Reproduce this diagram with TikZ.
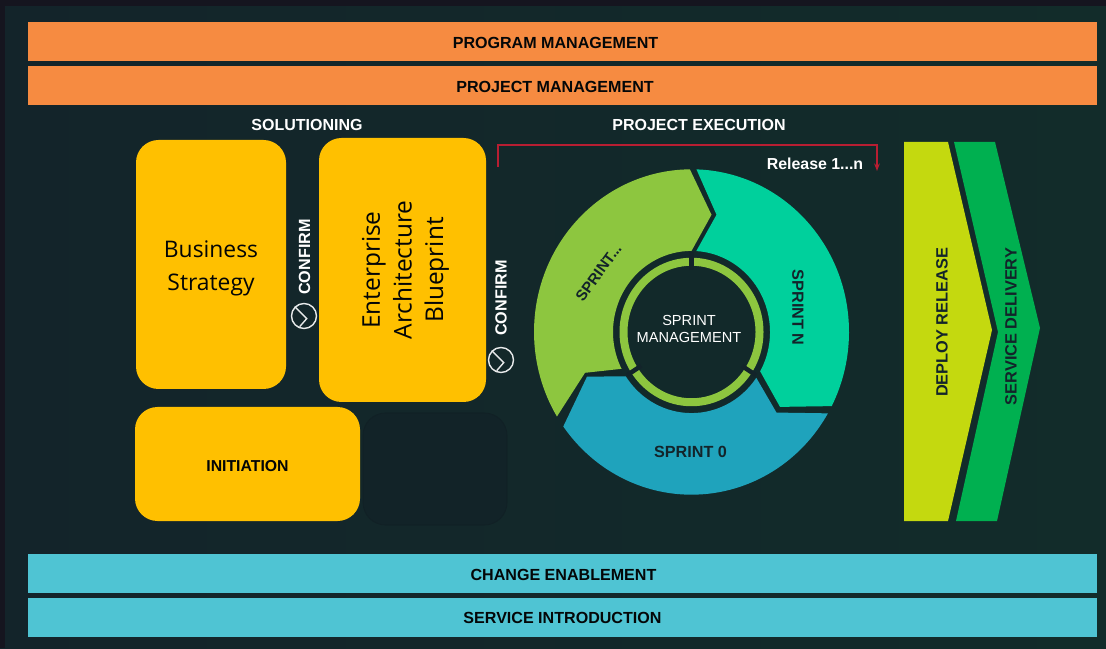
\documentclass[tikz,border=0pt]{standalone}
\usepackage{fontspec}
\setmainfont{Liberation Sans}
\newfontfamily\boxfont{Open Sans}
\usepackage{xcolor}
\usetikzlibrary{arrows.meta, positioning}
\definecolor{BgDark}{HTML}{13242A}
\definecolor{BgGreen}{HTML}{122C2A}
\definecolor{FrameDark}{HTML}{15151F}
\definecolor{BarOrange}{HTML}{F68B41}
\definecolor{BarTeal}{HTML}{4FC4D3}
\definecolor{BoxYellow}{HTML}{FFC000}
\definecolor{SprintGreen}{HTML}{8DC63F}
\definecolor{SprintMint}{HTML}{00D09C}
\definecolor{SprintBlue}{HTML}{1FA3BC}
\definecolor{DeployLime}{HTML}{C4D90F}
\definecolor{DeliveryGreen}{HTML}{00B050}
\definecolor{ReleaseRed}{HTML}{B81E32}

\begin{document}
\begin{tikzpicture}[
        bar/.style={minimum width=21.38cm, minimum height=0.78cm, inner sep=0pt},
        bartext/.style={font=\fontsize{9.15}{11}\selectfont\bfseries, text=black!80!BgDark},
        yellowbox/.style={fill=BoxYellow, rounded corners=0.45cm, inner sep=0pt, align=center, text=black!85!BgDark},
        heading/.style={text=white, font=\fontsize{9.1}{11}\selectfont\bfseries},
        confirm/.style={text=white, rotate=90, font=\fontsize{9.2}{10}\selectfont\bfseries},
        clock/.style={circle, draw=white!90!BgDark, thick, minimum size=0.5cm, inner sep=0pt},
        sprintlabel/.style={font=\fontsize{9.2}{10}\selectfont\bfseries, text=BgDark},
        arrowlabel/.style={rotate=90, font=\fontsize{9.3}{10}\selectfont\bfseries, text=BgDark},
        release/.style={ReleaseRed, thick, -{Stealth[length=1.5mm]}}
    ]

    \useasboundingbox (0,0) rectangle (22.12,12.96);
    \shade[left color=BgDark, right color=BgGreen] (0,0) rectangle (22.12,12.96);
    \fill[FrameDark] (0,0) rectangle (0.1,12.96);
    \fill[FrameDark] (0,12.84) rectangle (22.12,12.96);

    % bars on top and bottom
    \node[bar, fill=BarOrange] (programbar) at (11.25,12.12) {};
    \node[bar, fill=BarOrange] (projectbar) at (11.25,11.25) {};
    \node[bar, fill=BarTeal] (changebar) at (11.25,1.49) {};
    \node[bar, fill=BarTeal] (servicebar) at (11.25,0.62) {};
    \node[bartext] (program) at (11.11,12.1) {PROGRAM MANAGEMENT};
    \node[bartext] (project) at (11.1,11.23) {PROJECT MANAGEMENT};
    \node[bartext] (change) at (11.27,1.47) {CHANGE ENABLEMENT};
    \node[bartext] (service) at (11.25,0.6) {SERVICE INTRODUCTION};

    \node[heading] (solutioning) at (6.14,10.45) {SOLUTIONING};
    \node[heading] (execution) at (13.98,10.45) {PROJECT EXECUTION};

    % solutioning boxes
    \node[yellowbox, minimum width=3cm, minimum height=4.98cm] (strategy) at (4.22,7.67) {};
    \node[align=center, text=black!85!BgDark, font=\boxfont\fontsize{13}{18.7}\selectfont] (strategytext) at (4.22,7.59) {Business\\Strategy};
    \node[yellowbox, minimum width=3.34cm, minimum height=5.28cm] (blueprint) at (8.05,7.56) {};
    \node[rotate=90, align=center, text=black!85!BgDark, font=\boxfont\fontsize{13.9}{18}\selectfont] (blueprinttext) at (8.11,7.56) {Enterprise\\Architecture\\Blueprint};
    \node[yellowbox, minimum width=4.5cm, minimum height=2.28cm, font=\fontsize{9}{10}\selectfont\bfseries, text height=9pt] (initiation) at (4.95,3.68) {INITIATION};
    \node[draw=black!12!BgDark, fill=black!4!BgDark, rounded corners=0.45cm, minimum width=2.88cm, minimum height=2.24cm] (emptybox) at (8.7,3.58) {};

    \node[confirm] (confirma) at (6.09,7.82) {CONFIRM};
    \node[confirm] (confirmb) at (10.02,7.0) {CONFIRM};
    \node[clock] (clocka) at (6.08,6.64) {};
    \node[clock] (clockb) at (10.02,5.76) {};
    \draw[white!90!BgDark, thick] (clocka.north west) -- ++(0.24,-0.24) -- ++(-0.14,-0.16);
    \draw[white!90!BgDark, thick] (clockb.north west) -- ++(0.24,-0.24) -- ++(-0.14,-0.16);

    % release bracket
    \coordinate (relstart) at (9.96,9.62);
    \coordinate (relend) at (17.54,9.54);
    \node[text=white, font=\fontsize{9.05}{10}\selectfont\bfseries] (releasetext) at (16.3,9.68) {Release 1...n};
    \draw[release] (relstart) |- (17.54,10.06) -- (relend);

    % sprint ring
    \begin{scope}[shift={(13.83,6.32)}, yscale=1.033]
        \fill[SprintGreen] (90.6:3.15) arc[start angle=90.6, end angle=211.3, radius=3.15] -- (-2.13,-0.79) -- (207:1.57) arc[start angle=207, end angle=90, radius=1.57] -- (0.40,2.27) -- cycle;
        \fill[SprintMint] (88.2:3.15) arc[start angle=88.2, end angle=-27.1, radius=3.15] -- (1.77,-1.45) -- (-29:1.57) arc[start angle=-29, end angle=86.5, radius=1.57] -- (0.5,2.27) -- cycle;
        \fill[SprintBlue] (215.5:3.15) arc[start angle=215.5, end angle=330, radius=3.15] -- (1.7,-1.56) -- (-34.4:1.57) arc[start angle=-34.4, end angle=-146.9, radius=1.57] -- (-2.09,-0.865) -- cycle;
        \draw[SprintGreen, line width=0.16cm] (0,0) circle (1.36);
        \foreach \gapangle in {90,213,-33}
            \draw[BgDark, line width=0.09cm] (\gapangle:1.2) -- (\gapangle:1.54);
    \end{scope}

    \node[sprintlabel, rotate=54, font=\fontsize{8.6}{10}\selectfont\bfseries] (sprintmore) at (11.97,7.51) {SPRINT...};
    \node[sprintlabel, rotate=-90] (sprintn) at (15.96,6.81) {SPRINT N};
    \node[sprintlabel] (sprintzero) at (13.81,3.92) {SPRINT 0};
    \node[align=center, text=white, font=\fontsize{8.3}{10.2}\selectfont] (sprintmgmt) at (13.78,6.38) {SPRINT\\MANAGEMENT};

    % release chevrons
    \fill[DeliveryGreen] (19.08,10.12) -- (19.90,10.12) -- (20.80,6.4) -- (19.94,2.54) -- (19.12,2.54) -- (19.96,6.32) -- cycle;
    \fill[DeployLime] (18.08,10.12) -- (18.96,10.12) -- (19.84,6.36) -- (18.96,2.54) -- (18.08,2.54) -- cycle;
    \node[arrowlabel] (deploy) at (18.84,6.51) {DEPLOY RELEASE};
    \node[arrowlabel] (delivery) at (20.22,6.43) {SERVICE DELIVERY};

\end{tikzpicture}
\end{document}
